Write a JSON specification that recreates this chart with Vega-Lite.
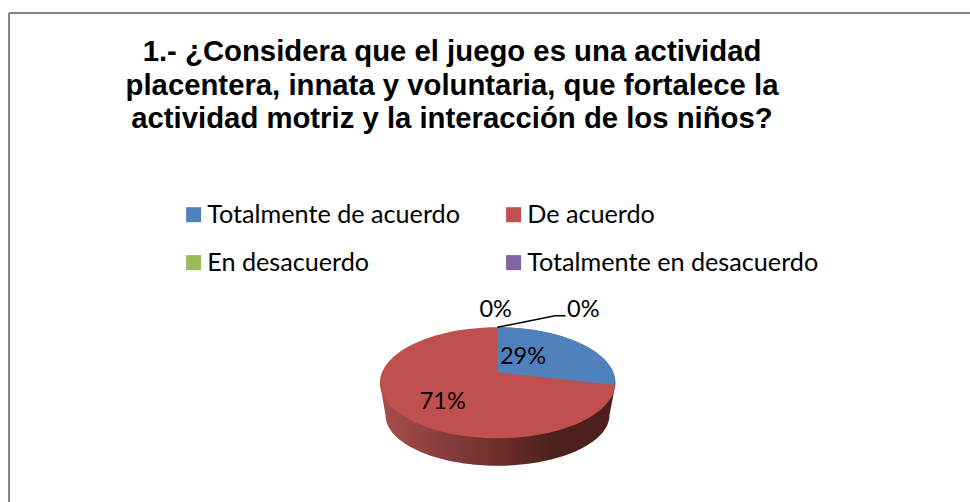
{
"$schema":"https://vega.github.io/schema/vega-lite/v6.json",
"width":961,"height":489,
"autosize":"none",
"padding":{"left":9,"top":13,"right":0,"bottom":0},
"background":"white",
"config":{"view":{"stroke":null}},
"title":{"text":["1.- ¿Considera que el juego es una actividad","placentera, innata y voluntaria, que fortalece la","actividad motriz y la interacción de los niños?"],"anchor":"middle","frame":"group","align":"center","baseline":"top","dx":-37.5,"dy":126.3,"font":"Liberation Sans","fontSize":29.3,"fontWeight":"bold","lineHeight":33.4,"color":"#000000"},
"data":{"values":[
{"category":"Totalmente de acuerdo","value":0.29},
{"category":"De acuerdo","value":0.71},
{"category":"En desacuerdo","value":0},
{"category":"Totalmente en desacuerdo","value":0}
]},
"layer":[
{"mark":{"type":"rule","stroke":"#868686","strokeWidth":2},"encoding":{"x":{"datum":0,"scale":{"domain":[0,1],"nice":false},"axis":null}}},
{"mark":{"type":"rule","stroke":"#868686","strokeWidth":2},"encoding":{"y":{"datum":1,"scale":{"domain":[0,1],"nice":false},"axis":null}}},
{"transform":[{"filter":"datum.category === 'De acuerdo'"}],
 "mark":{"type":"point","filled":true,"size":4,"opacity":1,"strokeWidth":0,"shape":"M-109.6 125.3 L-104 157.5 A112 50.7 0 0 0 120 157.5 L125.8 127.5 Z","color":{"gradient":"linear","x1":0,"x2":1,"y1":0,"y2":0,"stops":[{"offset":0,"color":"#a84e4c"},{"offset":0.25,"color":"#8a3f3d"},{"offset":0.5,"color":"#6e2e2c"},{"offset":0.75,"color":"#4b1f1c"},{"offset":1,"color":"#4f201d"}]}}},
{"transform":[{"filter":"datum.category === 'De acuerdo'"}],
 "mark":{"type":"point","filled":true,"size":4,"opacity":1,"strokeWidth":0,"shape":"M-109.6 125.3 A117.7 55.5 0 1 1 125.8 125.3 A117.7 55.5 0 1 1 -109.6 125.3 Z"},
 "encoding":{"color":{"field":"category","type":"nominal","sort":null,"scale":{"domain":["Totalmente de acuerdo","De acuerdo","En desacuerdo","Totalmente en desacuerdo"],"range":["#4f81bd","#c0504d","#9bbb59","#8064a2"]},
 "legend":{"title":null,"orient":"none","direction":"horizontal","legendX":172,"legendY":189,"columns":2,"symbolType":"square","symbolSize":225,"symbolStrokeWidth":0,"symbolOpacity":1,"labelFont":"Lato","labelFontSize":25.2,"labelColor":"#000000","labelLimit":400,"labelOffset":1,"columnPadding":41,"rowPadding":22,"padding":0,"gridAlign":"each"}}}},
{"transform":[{"filter":"datum.category === 'Totalmente de acuerdo'"}],
 "mark":{"type":"point","filled":true,"size":4,"opacity":1,"strokeWidth":0,"shape":"M7.8 114.8 L7.8 69.8 A117.7 55.5 0 0 1 125.8 127.5 Z"},
 "encoding":{"color":{"field":"category","type":"nominal","sort":null}}},
{"transform":[{"filter":"datum.category === 'En desacuerdo'"}],
 "mark":{"type":"point","filled":false,"size":4,"opacity":1,"stroke":"#000000","strokeWidth":1.5,"shape":"M7.8 69.8 L65.5 58.2 L76 58.2"}},
{"transform":[{"filter":"datum.category === 'Totalmente de acuerdo'"}],
 "mark":{"type":"text","font":"Lato","fontSize":23.5,"color":"#000000","baseline":"middle","align":"center","dx":33.5,"dy":99.2},"encoding":{"text":{"field":"value","type":"quantitative","format":".0%"}}},
{"transform":[{"filter":"datum.category === 'De acuerdo'"}],
 "mark":{"type":"text","font":"Lato","fontSize":23.5,"color":"#000000","baseline":"middle","align":"center","dx":-46.8,"dy":144.8},"encoding":{"text":{"field":"value","type":"quantitative","format":".0%"}}},
{"transform":[{"filter":"datum.category === 'En desacuerdo'"}],
 "mark":{"type":"text","font":"Lato","fontSize":23.5,"color":"#000000","baseline":"middle","align":"center","dx":93.8,"dy":52.5},"encoding":{"text":{"field":"value","type":"quantitative","format":".0%"}}},
{"transform":[{"filter":"datum.category === 'Totalmente en desacuerdo'"}],
 "mark":{"type":"text","font":"Lato","fontSize":23.5,"color":"#000000","baseline":"middle","align":"center","dx":6.2,"dy":52.5},"encoding":{"text":{"field":"value","type":"quantitative","format":".0%"}}}
]
}
